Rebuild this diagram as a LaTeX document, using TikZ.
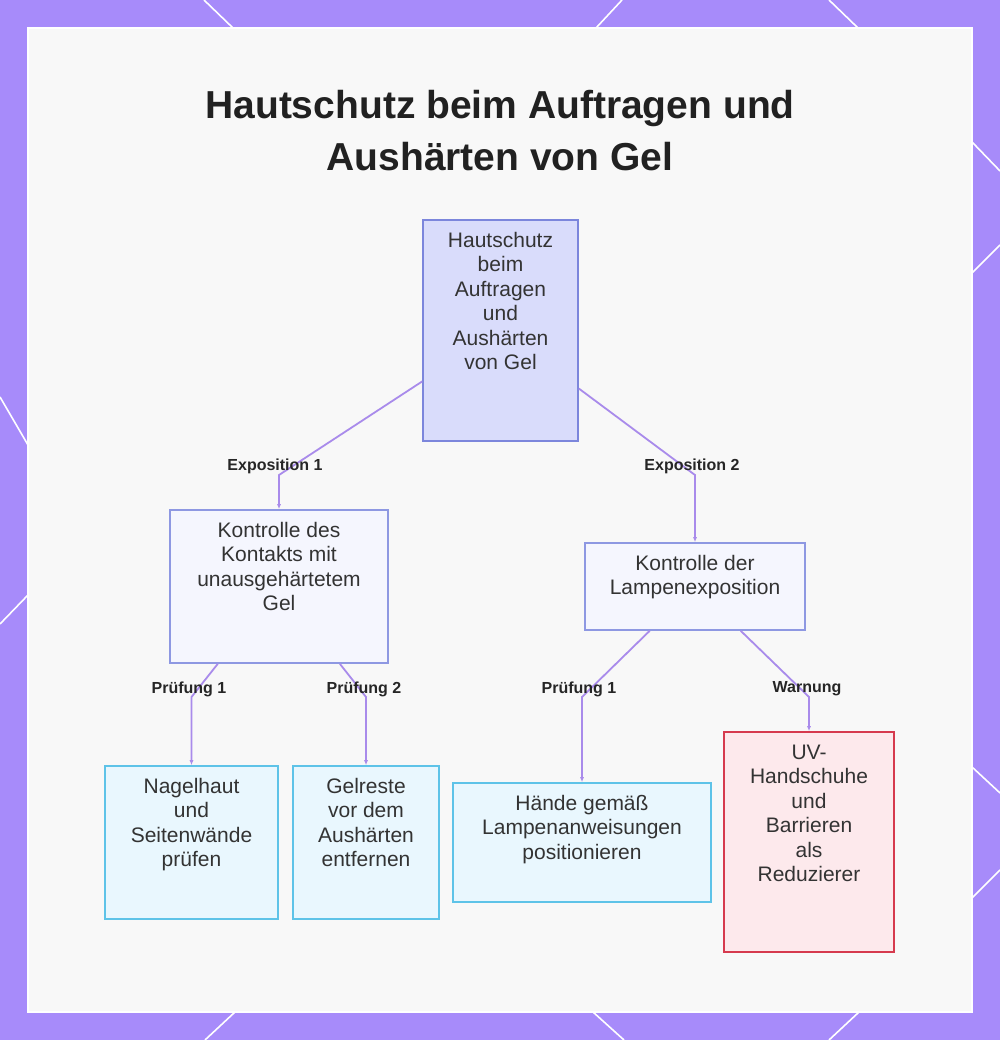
\documentclass[tikz,border=0pt]{standalone}
\usepackage{fontspec}
\setmainfont{Liberation Sans}
\usetikzlibrary{arrows.meta}

\definecolor{framecol}{HTML}{A78BFA}
\definecolor{panelcol}{HTML}{F8F8F8}
\definecolor{rootfill}{HTML}{D9DCFB}
\definecolor{rootline}{HTML}{7C86DC}
\definecolor{midfill}{HTML}{F5F6FE}
\definecolor{midline}{HTML}{8E98E2}
\definecolor{leaffill}{HTML}{E9F7FE}
\definecolor{leafline}{HTML}{5EC3E8}
\definecolor{warnfill}{HTML}{FDE9EC}
\definecolor{warnline}{HTML}{D63A4E}
\definecolor{linkcol}{HTML}{A98BEB}
\definecolor{ink}{HTML}{333333}

% box text: width, height, lines (top aligned)
\newcommand{\boxtext}[3]{\parbox[c][#2][t]{#1}{\centering\vspace*{10pt}\strut #3}}

\begin{document}
\begin{tikzpicture}[
		x=1pt, y=-1pt,
		every node/.style={inner sep=0pt, text=ink},
		boxbase/.style={line width=1.6pt, font=\fontsize{21}{24.5}\selectfont},
		rootbox/.style={boxbase, draw=rootline, fill=rootfill},
		midbox/.style={boxbase, draw=midline, fill=midfill},
		leafbox/.style={boxbase, draw=leafline, fill=leaffill},
		warnbox/.style={boxbase, draw=warnline, fill=warnfill},
		lbl/.style={font=\bfseries\fontsize{16}{19}\selectfont, text=black!85},
		connect/.style={draw=linkcol, line width=1.8pt, -{Latex[length=5pt, width=4pt]}},
		deco/.style={draw=white, line width=1.6pt}
		]
		\useasboundingbox (0,0) rectangle (1000,1040);
		% Frame
		\fill[framecol] (0,0) rectangle (1000,1040);
		\draw[deco] (204,0) -- (233,28) (622,0) -- (596,28) (829,0) -- (858,28);
		\draw[deco] (235,1012) -- (205,1040) (593,1012) -- (624,1040) (859,1012) -- (829,1040);
		\draw[deco] (0,397) -- (28,445) (28,595) -- (0,624);
		\draw[deco] (972,142) -- (1000,171) (972,273) -- (1000,245) (972,767) -- (1000,793) (972,898) -- (1000,870);
		\filldraw[fill=panelcol, draw=white, line width=2pt] (28,28) rectangle (972,1012);
		
		% Title
		\node[font=\bfseries\fontsize{39}{52}\selectfont, text=black!87, align=center] (title) at (500,131) {Hautschutz beim Auftragen und\\Aushärten von Gel};
		
		% Boxes
		\node[rootbox] (root) at (500.5,330.5) {\boxtext{155pt}{221pt}{Hautschutz\\beim\\Auftragen\\und\\Aushärten\\von Gel}};
		\node[midbox] (kontakt) at (279,586.5) {\boxtext{218pt}{153pt}{Kontrolle des\\Kontakts mit\\unausgehärtetem\\Gel}};
		\node[midbox] (lampe) at (695,586.5) {\boxtext{220pt}{87pt}{Kontrolle der\\Lampenexposition}};
		\node[leafbox] (nagel) at (191.5,842.5) {\boxtext{173pt}{153pt}{Nagelhaut\\und\\Seitenwände\\prüfen}};
		\node[leafbox] (gelrest) at (366,842.5) {\boxtext{146pt}{153pt}{Gelreste\\vor dem\\Aushärten\\entfernen}};
		\node[leafbox] (haende) at (582,842.5) {\boxtext{258pt}{119pt}{Hände gemäß\\Lampenanweisungen\\positionieren}};
		\node[warnbox] (uv) at (809,842) {\boxtext{170pt}{220pt}{UV-\\Handschuhe\\und\\Barrieren\\als\\Reduzierer}};
		
		% Bends
		\coordinate (b1) at (279,475);
		\coordinate (b2) at (695,475);
		\coordinate (b3) at (191.5,697);
		\coordinate (b4) at (366,697);
		\coordinate (b5) at (582,697);
		\coordinate (b6) at (809,697);
		
		% Arrows
		\draw[connect] (root) -- (b1) -- (kontakt);
		\draw[connect] (root) -- (b2) -- (lampe);
		\draw[connect] (kontakt) -- (b3) -- (nagel);
		\draw[connect] (kontakt) -- (b4) -- (gelrest);
		\draw[connect] (lampe) -- (b5) -- (haende);
		\draw[connect] (lampe) -- (b6) -- (uv);
		
		% Labels
		\node[lbl] (l1) at (275,466) {Exposition 1};
		\node[lbl] (l2) at (692,466) {Exposition 2};
		\node[lbl] (l3) at (189,689) {Prüfung 1};
		\node[lbl] (l4) at (364,689) {Prüfung 2};
		\node[lbl] (l5) at (579,689) {Prüfung 1};
		\node[lbl] (l6) at (807,689) {Warnung};
	\end{tikzpicture}
\end{document}
